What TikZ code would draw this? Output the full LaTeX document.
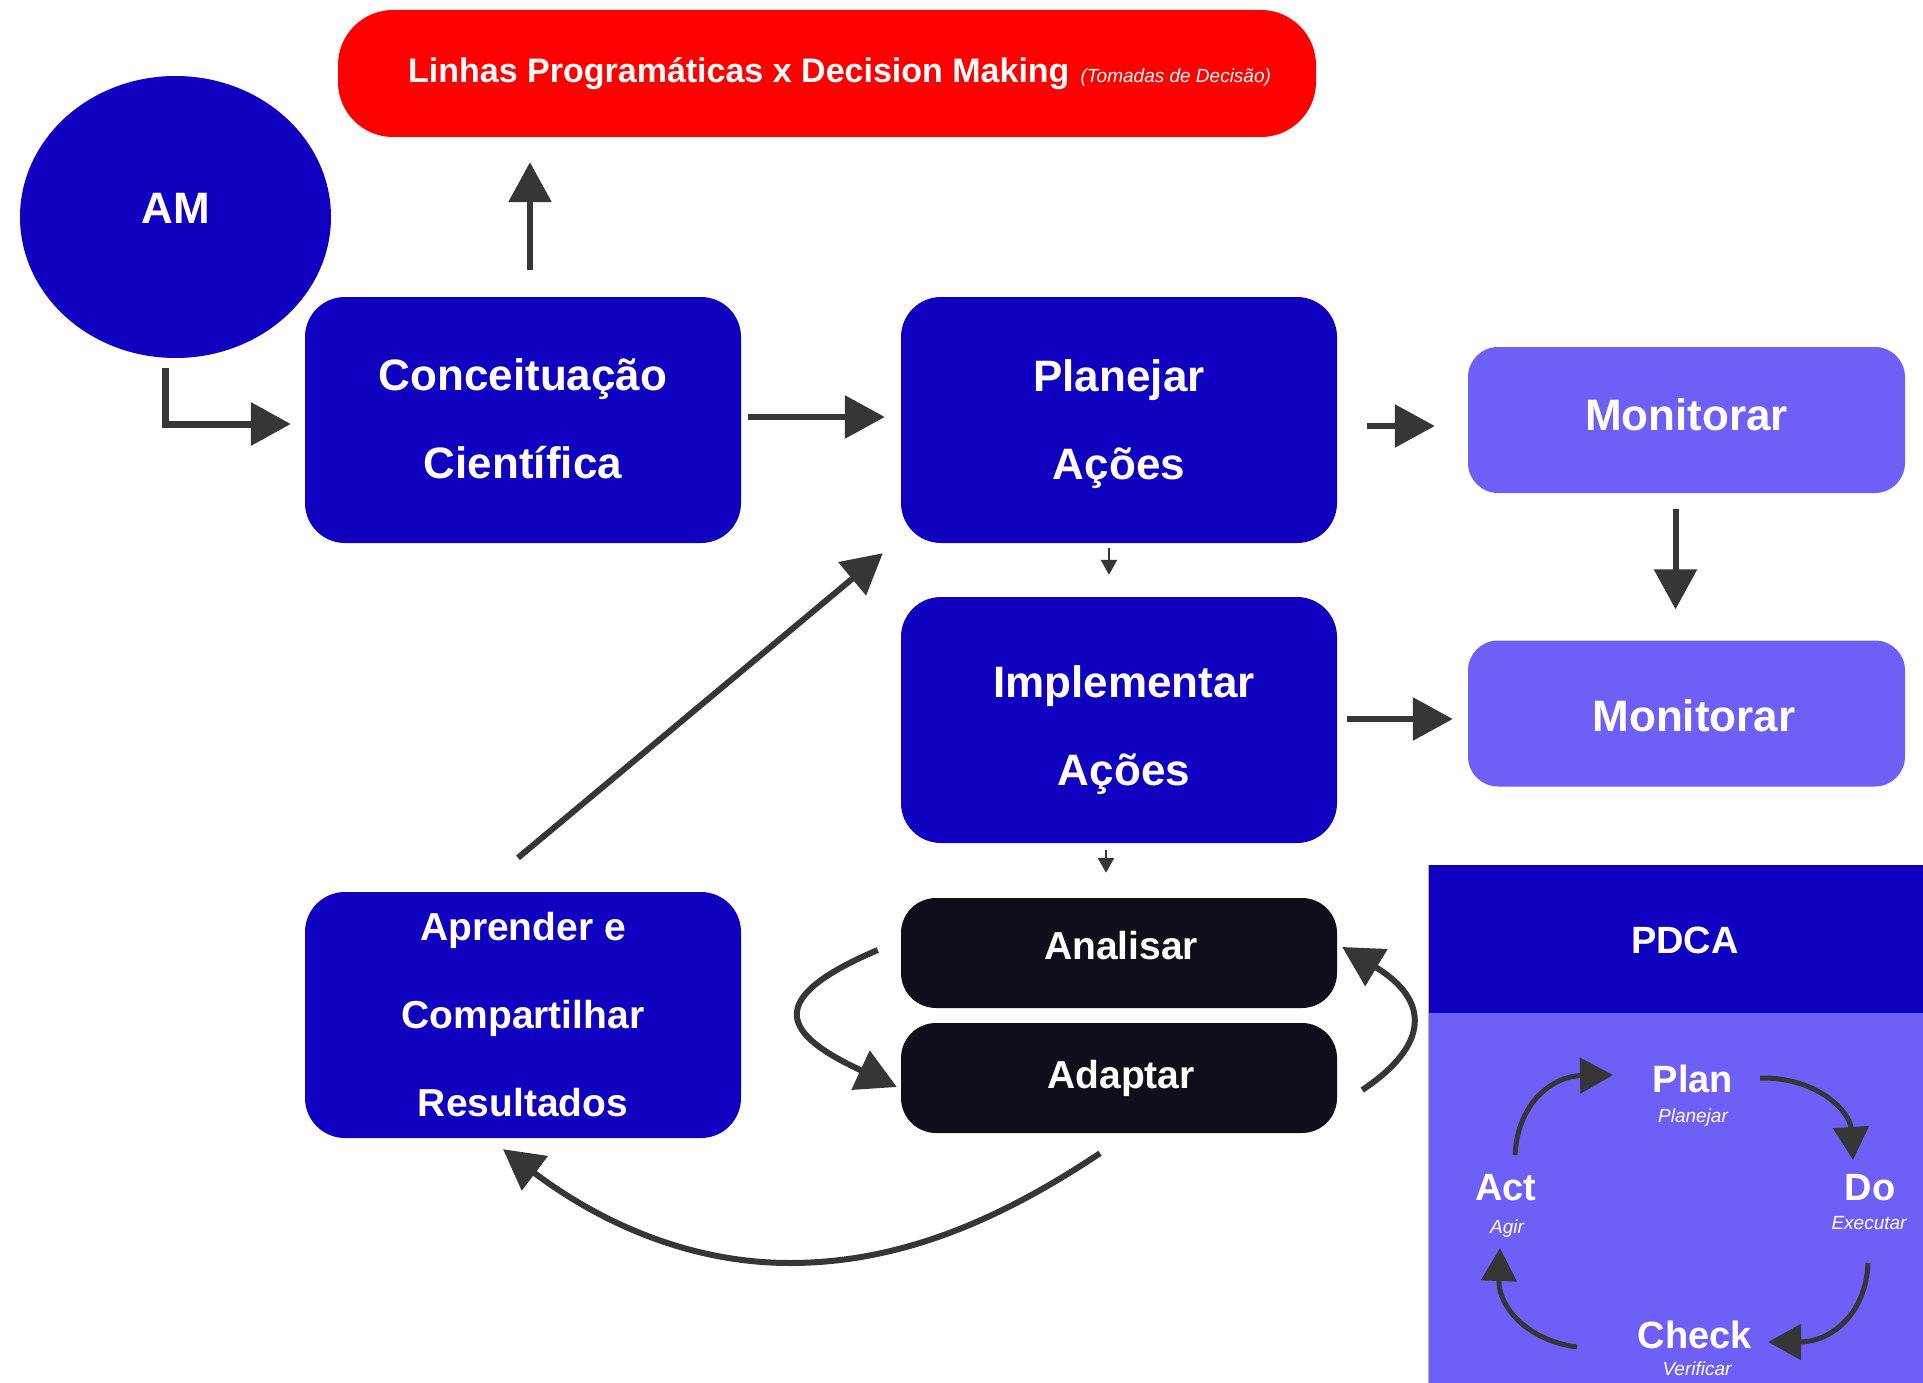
\documentclass[tikz,border=0pt]{standalone}
\usepackage{fontspec}
\setmainfont{Liberation Sans}
\usetikzlibrary{arrows.meta,shapes.geometric}
\definecolor{bblue}{HTML}{1000BF}
\definecolor{lpurp}{HTML}{6E5FF6}
\definecolor{bblack}{HTML}{0F0F1C}
\definecolor{agray}{HTML}{363636}
\definecolor{rred}{HTML}{FF0000}
\begin{document}
\begin{tikzpicture}[x=1pt,y=-1pt,
  box/.style={rectangle, rounded corners=40pt, fill=bblue,
    minimum width=436pt, minimum height=246pt, inner sep=0pt},
  mon/.style={rectangle, rounded corners=30pt, fill=lpurp,
    minimum width=437pt, minimum height=146pt, inner sep=0pt},
  dark/.style={rectangle, rounded corners=35pt, fill=bblack,
    minimum width=436pt, minimum height=110pt, inner sep=0pt},
  ell/.style={ellipse, fill=bblue, minimum width=311pt, minimum height=282pt, inner sep=0pt},
  txtA/.style={text=white, inner sep=0pt, align=center, font=\bfseries\fontsize{44}{88}\selectfont},
  txtB/.style={text=white, inner sep=0pt, align=center, font=\bfseries\fontsize{39}{88}\selectfont},
  big/.style={anchor=base, text=white, inner sep=0pt, font=\bfseries\fontsize{38}{44}\selectfont},
  sub/.style={anchor=base, text=white, inner sep=0pt, font=\itshape\fontsize{19}{22}\selectfont},
  fat/.style={draw=agray, line width=6pt, -{Triangle[length=40pt,width=42pt]}},
  smallarr/.style={draw=agray, line width=2.5pt, -{Triangle[length=15pt,width=16pt]}},
  cyc/.style={draw=agray, line width=5pt, -{Triangle[length=33pt,width=35pt]}}
]
\fill[white] (0,0) rectangle (1923,1383);
\useasboundingbox (0,0) rectangle (1923,1383);

% top red banner
\node[rectangle, rounded corners=55pt, fill=rred, minimum width=978pt, minimum height=127pt, inner sep=0pt] (lp) at (827,73.5) {};
\node[anchor=base west, text=white, inner sep=0pt, font=\bfseries\fontsize{34}{40}\selectfont] (lptxt) at (408,83)
  {Linhas Programáticas x Decision Making\hspace{11pt}{\normalfont\itshape\fontsize{19}{22}\selectfont(Tomadas de Decisão)}};

% main shapes
\node[ell] (am) at (175.5,217) {};
\node[box] (conc) at (523,420) {};
\node[box] (plan) at (1119,420) {};
\node[box] (impl) at (1119,720) {};
\node[box] (apr) at (523,1015) {};
\node[mon] (mon1) at (1686.5,420) {};
\node[mon] (mon2) at (1686.5,713.5) {};
\node[dark] (ana) at (1119,953) {};
\node[dark] (ada) at (1119,1078) {};

% texts
\node[txtA] (amt) at (175.5,208) {AM};
\node[txtA] (conct) at (523,419) {Conceituação\\Científica};
\node[txtA] (plant) at (1119,424) {Planejar\\Ações};
\node[txtA] (implt) at (1124,730) {Implementar\\Ações};
\node[txtB] (aprt) at (523,1015) {Aprender e\\Compartilhar\\Resultados};
\node[txtA] (mon1t) at (1686.5,415) {Monitorar};
\node[txtA] (mon2t) at (1694,716) {Monitorar};
\node[txtB] (anat) at (1121,946) {Analisar};
\node[txtB] (adat) at (1121,1078) {Adaptar};

% PDCA panel
\node[draw=gray!60, line width=1pt, fill=lpurp, anchor=north west, minimum width=498pt, minimum height=522pt, inner sep=0pt] (pbody) at (1428,865) {};
\node[fill=bblue, anchor=north west, minimum width=498pt, minimum height=148pt, inner sep=0pt] (phead) at (1429,865) {};
\node[big] (pdca) at (1685,953) {PDCA};
\node[big] (pplan) at (1693,1092) {Plan};
\node[sub] (pplans) at (1693,1122) {Planejar};
\node[big] (pact) at (1506,1200) {Act};
\node[sub] (pacts) at (1507,1233) {Agir};
\node[big] (pdo) at (1870,1200) {Do};
\node[sub] (pdos) at (1869,1229) {Executar};
\node[big] (pcheck) at (1695,1348) {Check};
\node[sub] (pchecks) at (1697,1375) {Verificar};

% connectors
\path (conc.north |- lp.south) ++(7,25) coordinate (uptip);
\draw[fat, line width=7pt] ([xshift=-10pt,yshift=-10pt]am.south) |- ([xshift=-14pt,yshift=-4pt]conc.west);
\draw[fat] ([xshift=7pt,yshift=27pt]conc.north) -- (uptip);
\draw[fat] ([xshift=7pt,yshift=3pt]conc.east) -- ([xshift=-16pt,yshift=3pt]plan.west);
\draw[fat] ([xshift=30pt,yshift=-6pt]plan.east) -- ([xshift=-33pt,yshift=-6pt]mon1.west);
\draw[fat] ([xshift=-11pt,yshift=-16pt]mon1.south) -- ([xshift=-11pt,yshift=31pt]mon2.north);
\draw[fat] ([xshift=10pt,yshift=1pt]impl.east) -- ([xshift=-15pt,yshift=-5.5pt]mon2.west);
\draw[smallarr] ([xshift=-10pt,yshift=-5pt]plan.south) -- ([xshift=-10pt,yshift=22pt]impl.north);
\draw[smallarr] ([xshift=-13pt,yshift=-7pt]impl.south) -- ([xshift=-13pt,yshift=25pt]ana.north);
\draw[fat] ([xshift=-5pt,yshift=34pt]apr.north) -- ([xshift=-18pt,yshift=-10pt]plan.south west);
\draw[fat] ([xshift=-23pt,yshift=3pt]ana.west) .. controls (760,1000) and (785,1035) .. ([xshift=-4pt,yshift=-9pt]ada.west);
\draw[fat] ([xshift=25pt,yshift=-12pt]ada.east) .. controls (1430,1045) and (1430,1000) .. ([xshift=5pt,yshift=6pt]ana.east);
\draw[fat] ([xshift=-19pt,yshift=-20pt]ada.south) .. controls (1000,1220) and (900,1263) .. (790,1263)
  .. controls (680,1263) and (590,1215) .. ([xshift=-20pt,yshift=-11pt]apr.south);

% PDCA cycle
\coordinate (c1s) at (1515,1155); \coordinate (c1e) at (1613,1075);
\coordinate (c2s) at (1760,1078); \coordinate (c2e) at (1853,1160);
\coordinate (c3s) at (1868,1263); \coordinate (c3e) at (1768,1342);
\coordinate (c4s) at (1577,1347); \coordinate (c4e) at (1500,1248);
\draw[cyc] (c1s) .. controls (1518,1100) and (1555,1076) .. (c1e);
\draw[cyc] (c2s) .. controls (1818,1077) and (1850,1112) .. (c2e);
\draw[cyc] (c3s) .. controls (1866,1315) and (1830,1342) .. (c3e);
\draw[cyc] (c4s) .. controls (1525,1340) and (1498,1305) .. (c4e);
\end{tikzpicture}
\end{document}
